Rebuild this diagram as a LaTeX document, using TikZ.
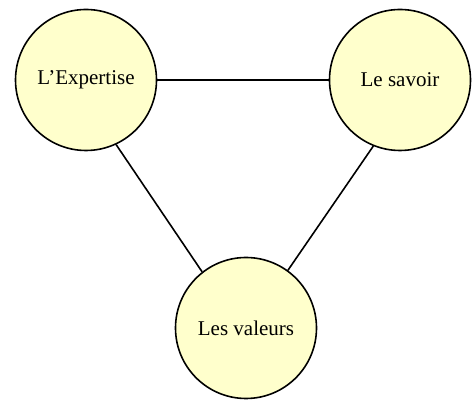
\documentclass[tikz,border=0pt]{standalone}
\usepackage{fontspec}
\setmainfont{Liberation Serif}
\begin{document}
\begin{tikzpicture}[x=1pt,y=1pt,
  circ/.style={circle,draw=black,line width=1.6pt,fill={rgb,255:red,255;green,255;blue,204},minimum size=141pt,inner sep=0pt,font=\fontsize{21}{24}\selectfont},
  link/.style={line width=1.6pt}]
\useasboundingbox (0,0) rectangle (472,401);
\node[circ] (exp) at (86,321) {L’Expertise};
\node[circ] (sav) at (400,321) {Le savoir};
\node[circ] (val) at (246,73) {Les valeurs};
\draw[link] (exp.east) -- (sav.west);
\draw[link] (exp.-65) -- (val.128);
\draw[link] (sav.-112) -- (val.54);
\end{tikzpicture}
\end{document}
